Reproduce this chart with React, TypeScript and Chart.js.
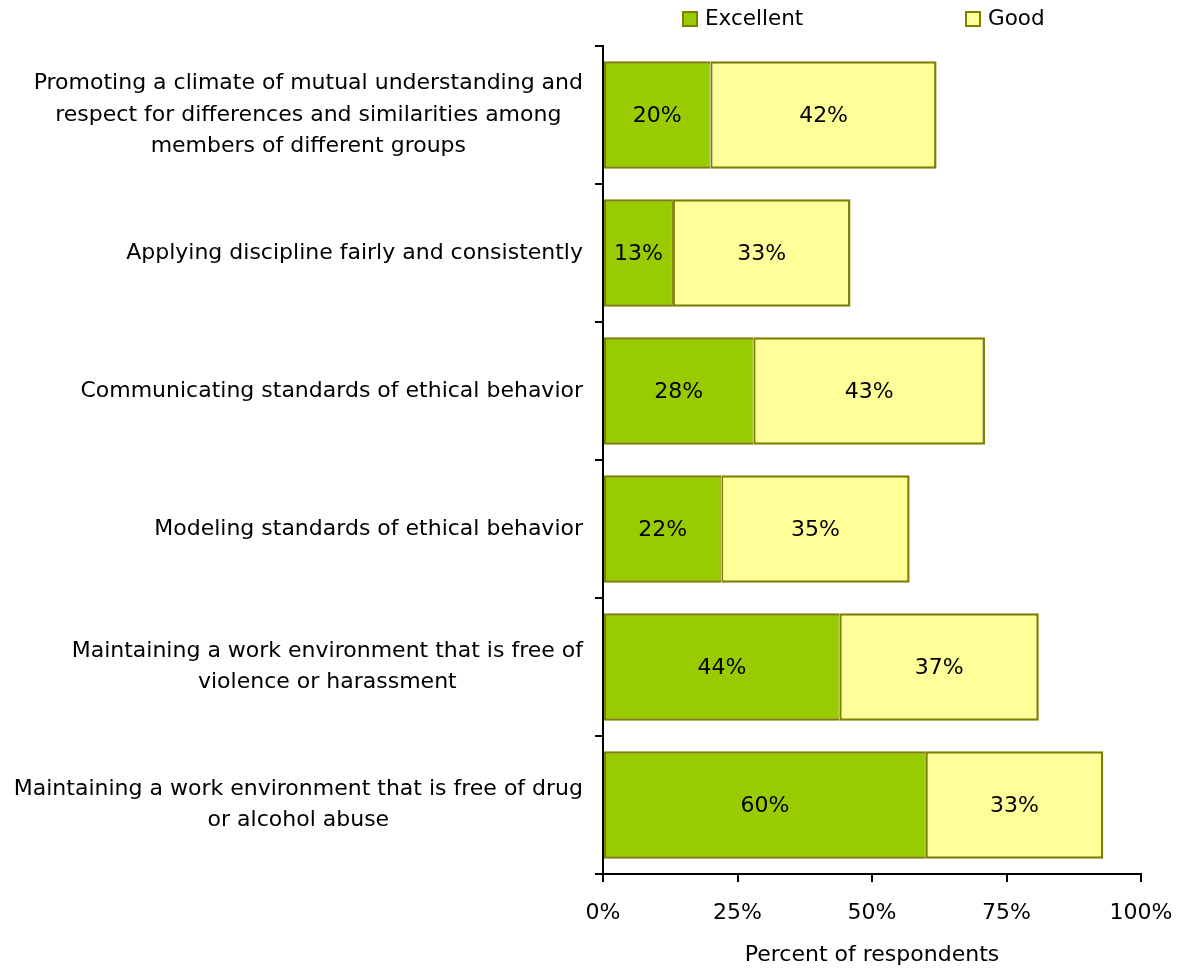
import React, { useEffect, useRef } from "react";
import { Chart, registerables } from "chart.js";

Chart.register(...registerables);

const categories: string[][] = [
  [
    "Promoting a climate of mutual understanding and",
    "respect for differences and similarities among",
    "members of different groups",
  ],
  ["Applying discipline fairly and consistently"],
  ["Communicating standards of ethical behavior"],
  ["Modeling standards of ethical behavior"],
  ["Maintaining a work environment that is free of", "violence or harassment"],
  ["Maintaining a work environment that is free of drug", "or alcohol abuse"],
];
const seriesNames = ["Excellent", "Good"];
const excellent = [20, 13, 28, 22, 44, 60];
const good = [42, 33, 43, 35, 37, 33];
const xTickValues = [0, 25, 50, 75, 100];
const xTitle = "Percent of respondents";

const FONT = "DejaVu Sans";
const GREEN = "#99CC00";
const YELLOW = "#FFFF99";
const EDGE = "#808000";

export default function App() {
  const ref = useRef<HTMLCanvasElement>(null);

  useEffect(() => {
    document.body.style.margin = "0";
    const canvas = ref.current;
    if (!canvas) return;

    const overlay = {
      id: "overlay",
      afterDraw(chart: any) {
        const ctx = chart.ctx as CanvasRenderingContext2D;
        const ys = chart.scales.y;
        const area = chart.chartArea;
        ctx.save();
        ctx.fillStyle = "#000";
        ctx.textBaseline = "middle";
        ctx.textAlign = "center";
        ctx.font = `22px "${FONT}"`;
        // category labels: block right-aligned, lines centered
        const right = ys.right - 20;
        const lh = 31.5;
        (chart.data.labels as string[][]).forEach((lines, i) => {
          const cy = ys.getPixelForTick(i);
          const widest = Math.max(...lines.map((l) => ctx.measureText(l).width));
          const cx = right - widest / 2;
          lines.forEach((l, j) => {
            ctx.fillText(l, cx, cy + (j - (lines.length - 1) / 2) * lh);
          });
        });
        // value labels
        chart.data.datasets.forEach((ds: any, di: number) => {
          const meta = chart.getDatasetMeta(di);
          meta.data.forEach((el: any, i: number) => {
            const p = el.getProps(["x", "y", "base"], true);
            ctx.fillText(ds.data[i] + "%", (p.x + p.base) / 2, p.y + 1);
          });
        });
        // legend
        ctx.font = `21.5px "${FONT}"`;
        ctx.textAlign = "left";
        const offsets = [79, 362];
        chart.data.datasets.forEach((ds: any, di: number) => {
          const bx = area.left + offsets[di];
          const by = 11;
          ctx.fillStyle = ds.backgroundColor;
          ctx.fillRect(bx, by, 16, 16);
          ctx.strokeStyle = EDGE;
          ctx.lineWidth = 2;
          ctx.strokeRect(bx + 1, by + 1, 14, 14);
          ctx.fillStyle = "#000";
          ctx.fillText(ds.label, bx + 23, by + 8.5);
        });
        ctx.restore();
      },
    };

    const chart = new Chart(canvas, {
      type: "bar",
      data: {
        labels: categories,
        datasets: [
          {
            label: seriesNames[0],
            data: excellent,
            backgroundColor: GREEN,
            borderColor: EDGE,
            borderWidth: { left: 2, top: 2.5, bottom: 2.5, right: 1 },
            borderSkipped: false,
            barPercentage: 0.78,
            categoryPercentage: 1,
          },
          {
            label: seriesNames[1],
            data: good,
            backgroundColor: YELLOW,
            borderColor: EDGE,
            borderWidth: { left: 2, top: 2.5, bottom: 2.5, right: 2.5 },
            borderSkipped: false,
            barPercentage: 0.78,
            categoryPercentage: 1,
          },
        ],
      },
      options: {
        indexAxis: "y",
        responsive: false,
        animation: false,
        devicePixelRatio: 1,
        layout: { padding: { top: 46, right: 39, left: 0, bottom: 0 } },
        plugins: {
          legend: { display: false },
          tooltip: { enabled: false },
        },
        scales: {
          x: {
            type: "linear",
            stacked: true,
            min: 0,
            max: 100,
            afterBuildTicks: (s: any) => {
              s.ticks = xTickValues.map((v) => ({ value: v }));
            },
            afterFit: (s: any) => {
              s.height = 95;
              s.paddingLeft = 0;
              s.paddingRight = 0;
            },
            ticks: {
              callback: (v: any) => v + "%",
              padding: 18,
              color: "#000",
              font: { family: FONT, size: 22 },
              maxRotation: 0,
            },
            grid: {
              drawOnChartArea: false,
              drawTicks: true,
              tickLength: 8,
              color: "#000",
              lineWidth: 2,
            },
            border: { color: "#000", width: 2 },
            title: {
              display: true,
              text: xTitle,
              color: "#000",
              font: { family: FONT, size: 22 },
              padding: { top: 0, bottom: 1 },
            },
          },
          y: {
            type: "category",
            stacked: true,
            offset: true,
            afterFit: (s: any) => {
              s.width = 603;
              s.paddingTop = 0;
              s.paddingBottom = 0;
            },
            ticks: { display: false },
            grid: {
              offset: true,
              drawOnChartArea: false,
              drawTicks: true,
              tickLength: 8,
              color: "#000",
              lineWidth: 2,
            },
            border: { color: "#000", width: 2 },
          },
        },
      } as any,
      plugins: [overlay],
    });

    return () => chart.destroy();
  }, []);

  return <canvas ref={ref} width={1180} height={969} style={{ display: "block" }} />;
}
